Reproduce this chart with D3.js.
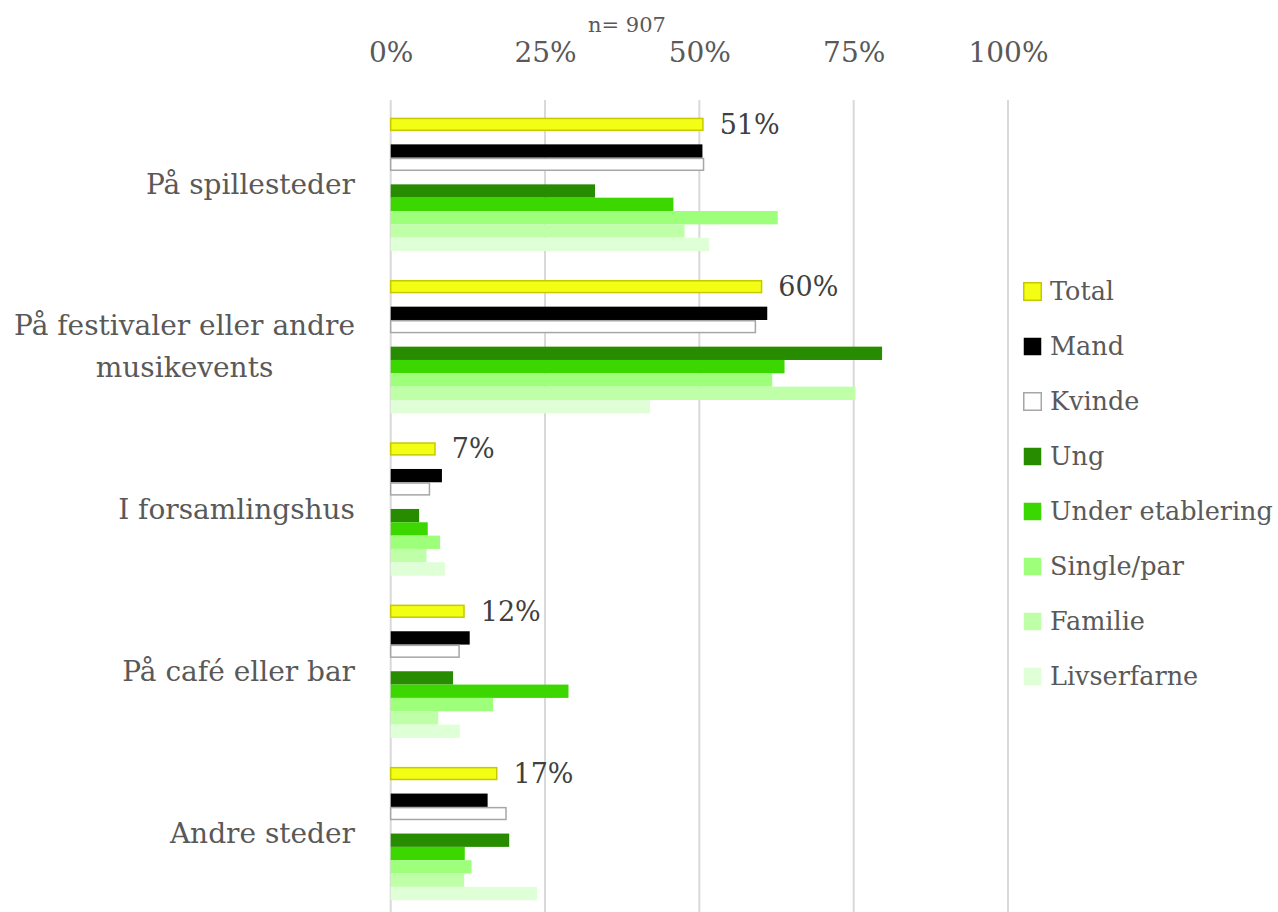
<!DOCTYPE html>
<html><head><meta charset="utf-8">
<script src="https://cdn.jsdelivr.net/npm/d3@7"></script>
<style>body{margin:0;background:#fff}svg{display:block}</style>
</head><body>
<script>
const categories = [["På spillesteder"],["På festivaler eller andre","musikevents"],["I forsamlingshus"],["På café eller bar"],["Andre steder"]];
const seriesNames = ["Total","Mand","Kvinde","Ung","Under etablering","Single/par","Familie","Livserfarne"];
const total       = [50.7, 60.2, 7.3, 12.0, 17.3];
const mand        = [50.5, 61.0, 8.3, 12.8, 15.7];
const kvinde      = [50.8, 59.2, 6.4, 11.2, 18.8];
const ung         = [33.1, 79.6, 4.6, 10.1, 19.2];
const underEtab   = [45.8, 63.8, 6.0, 28.8, 12.0];
const singlePar   = [62.7, 61.8, 8.0, 16.6, 13.1];
const familie     = [47.6, 75.3, 5.8, 7.7, 11.9];
const livserfarne = [51.6, 42.0, 8.8, 11.2, 23.7];
const totalLabels = ["51%","60%","7%","12%","17%"];
const tickValues = [0,25,50,75,100];
const note = "n= 907";

const seriesValues = [total,mand,kvinde,ung,underEtab,singlePar,familie,livserfarne];
const slotIndex = [0,2,3,5,6,7,8,9];
const fills   = ["#f2ff14","#000000","#ffffff","#288c00","#3cd600","#9eff7a","#bfffa8","#dfffd6"];
const strokes = ["#c8c800",null,"#a6a6a6",null,null,null,null,null];

const W=1278,H=912;
const svg=d3.select("body").append("svg").attr("width",W).attr("height",H);
const font="'DejaVu Serif', serif";
const x=d3.scaleLinear().domain([0,100]).range([390.7,1008]);
const y=d3.scaleBand().domain(d3.range(categories.length)).range([103.2,914.7]).paddingInner(0).paddingOuter(0);
const slot=d3.scaleBand().domain(d3.range(10)).range([0,133.3]);
const groupOff=(y.bandwidth()-133.3)/2;

// gridlines
svg.append("g").selectAll("line").data(tickValues).join("line")
  .attr("x1",d=>x(d)).attr("x2",d=>x(d)).attr("y1",100).attr("y2",H)
  .attr("stroke","#d9d9d9").attr("stroke-width",2);

// top axis labels
const ax=svg.append("g").attr("transform","translate(0,65)").call(d3.axisTop(x).tickValues(tickValues).tickFormat(d=>d+"%").tickSize(0));
ax.select(".domain").remove();
ax.selectAll("text").attr("font-family",font).attr("font-size",28).attr("fill","#595959").attr("dy",0);

svg.append("text").attr("x",627).attr("y",32).attr("text-anchor","middle")
  .attr("font-family",font).attr("font-size",21).attr("fill","#595959").text(note);

// bars
seriesValues.forEach((vals,si)=>{
  const g=svg.append("g");
  g.selectAll("rect").data(vals).join("rect")
    .attr("x",x(0))
    .attr("y",(d,i)=>y(i)+groupOff+slot(slotIndex[si]) + (strokes[si]?0.75:0))
    .attr("width",d=>x(d)-x(0) - (strokes[si]?0.75:0))
    .attr("height",slot.bandwidth()-(strokes[si]?1.5:0))
    .attr("fill",fills[si])
    .attr("stroke",strokes[si]||"none").attr("stroke-width",strokes[si]?1.5:0);
});

// total labels
svg.append("g").selectAll("text").data(total).join("text")
  .attr("x",d=>x(d)+16).attr("y",(d,i)=>y(i)+groupOff+slot(0)+slot.bandwidth()/2)
  .attr("dy","0.35em").attr("font-family",font).attr("font-size",27).attr("fill","#404040")
  .text((d,i)=>totalLabels[i]);

// category labels
const cl=svg.append("g").selectAll("text").data(categories).join("text")
  .attr("font-family",font).attr("font-size",28).attr("fill","#595959").attr("text-anchor","middle");
cl.each(function(lines,i){
  const t=d3.select(this);
  const cy=y(i)+y.bandwidth()/2;
  const lh=42;
  lines.forEach((s,k)=>{
    t.append("tspan").attr("y",cy+(k-(lines.length-1)/2)*lh).attr("dy","0.35em").text(s);
  });
  const ws=[];t.selectAll("tspan").each(function(){ws.push(this.getComputedTextLength());});
  const mw=d3.max(ws);
  t.selectAll("tspan").attr("x",355-mw/2);
});

// legend
const lg=svg.append("g").selectAll("g").data(seriesNames).join("g")
  .attr("transform",(d,i)=>`translate(1023,${291+i*55})`);
lg.append("rect").attr("x",0.75).attr("y",-8.25).attr("width",17.5).attr("height",17.5)
  .attr("fill",(d,i)=>fills[i]).attr("stroke",(d,i)=>strokes[i]||"none").attr("stroke-width",1.5);
lg.append("text").attr("x",27).attr("dy","0.35em").attr("font-family",font).attr("font-size",25.5)
  .attr("fill","#595959").text(d=>d);
</script>
</body></html>
